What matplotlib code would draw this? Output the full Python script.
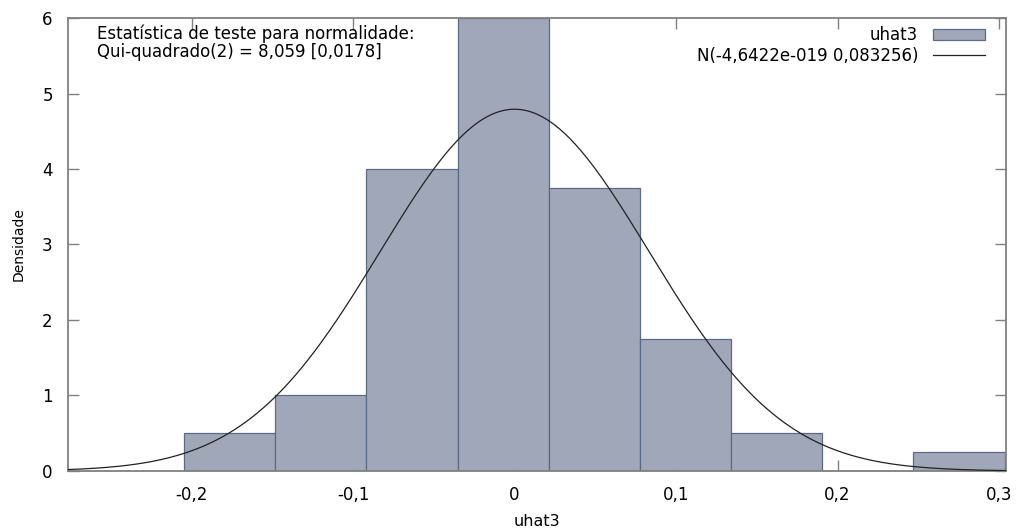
import numpy as np
import matplotlib.pyplot as plt

# histogram of uhat3 (densities)
bin_edges = [-0.2046, -0.1481, -0.0917, -0.0352, 0.0212, 0.0777, 0.1341, 0.1906, 0.2470, 0.3035]
densities = [0.5, 1.0, 4.0, 6.0, 3.75, 1.75, 0.5, 0.0, 0.25]

# normal fit given in the legend
mu = -4.6422e-19
sigma = 0.083256

xticks = [-0.2, -0.1, 0.0, 0.1, 0.2, 0.3]
xticklabels = ['-0,2', '-0,1', '0', '0,1', '0,2', '0,3']
yticks = [0, 1, 2, 3, 4, 5, 6]

plt.rcParams['font.family'] = 'DejaVu Sans'

fig = plt.figure(figsize=(10.17, 5.31), dpi=100)
ax = fig.add_axes([0.0669, 0.1130, 0.9223, 0.8531])

widths = np.diff(bin_edges)
bars = ax.bar(bin_edges[:-1], densities, width=widths, align='edge',
              color='#a0a7b8', edgecolor='#5b6a85', linewidth=0.9, label='uhat3', zorder=2)

xs = np.linspace(-0.2765, 0.3043, 500)
pdf = np.exp(-0.5 * ((xs - mu) / sigma) ** 2) / (sigma * np.sqrt(2 * np.pi))
line, = ax.plot(xs, pdf, color='#222222', linewidth=0.9, label='N(-4,6422e-019 0,083256)', zorder=3)

ax.set_xlim(-0.2765, 0.3043)
ax.set_ylim(0, 6)
ax.set_xticks(xticks)
ax.set_xticklabels(xticklabels)
ax.set_yticks(yticks)

ax.tick_params(direction='in', length=8, width=1, color='#808080',
               top=True, right=True, labelsize=12, pad=11)
for s in ax.spines.values():
    s.set_color('#808080')
    s.set_linewidth(1.3)

ax.set_xlabel('uhat3', fontsize=11.5, labelpad=7)
ax.set_ylabel('Densidade', fontsize=10, labelpad=12)

ax.text(0.031, 0.985, 'Estatística de teste para normalidade:\nQui-quadrado(2) = 8,059 [0,0178]',
        transform=ax.transAxes, ha='left', va='top', fontsize=12, linespacing=0.95)

leg = ax.legend([bars, line], ['uhat3', 'N(-4,6422e-019 0,083256)'],
                loc='upper right', bbox_to_anchor=(0.9776, 0.982), frameon=False,
                markerfirst=False, fontsize=12, handlelength=3.1, handleheight=0.6,
                borderaxespad=0, borderpad=0, labelspacing=0.15, handletextpad=0.9)

plt.savefig('out.png', dpi=100)
